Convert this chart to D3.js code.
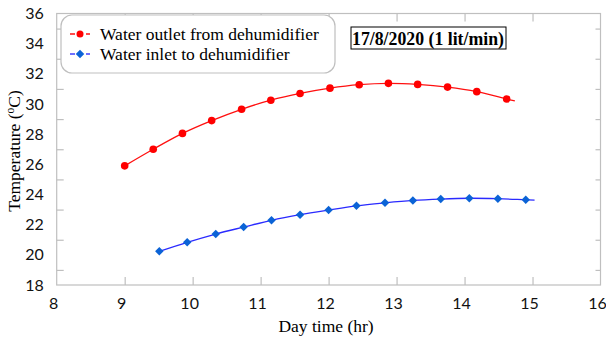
<!DOCTYPE html>
<html>
<head>
<meta charset="utf-8">
<script src="https://cdn.jsdelivr.net/npm/d3@7"></script>
<style>
  body { margin: 0; background: #fff; }
  svg { display: block; }
</style>
</head>
<body>
<div id="chart"></div>
<script>

// data
var outletTime = [9.0, 9.42, 9.85, 10.28, 10.72, 11.15, 11.58, 12.02, 12.45, 12.88, 13.31, 13.75, 14.18, 14.62];
var outletTemp = [25.9, 27.0, 28.05, 28.9, 29.65, 30.25, 30.7, 31.05, 31.28, 31.37, 31.3, 31.12, 30.82, 30.33];
var outletLineEnd = [14.74, 30.2];

var inletTime = [9.51, 9.92, 10.34, 10.75, 11.16, 11.58, 12.0, 12.41, 12.83, 13.24, 13.65, 14.07, 14.49, 14.9];
var inletTemp = [20.23, 20.83, 21.38, 21.84, 22.29, 22.66, 22.97, 23.25, 23.45, 23.61, 23.7, 23.75, 23.72, 23.65];
var inletLineEnd = [15.03, 23.63];

var xTicks = [8, 9, 10, 11, 12, 13, 14, 15, 16];
var yLabels = [18, 20, 22, 24, 26, 28, 30, 32, 34, 36];
var yMarks = [19, 21, 23, 25, 27, 29, 31, 33, 35];

var seriesNames = ["Water outlet from dehumidifier", "Water inlet to dehumidifier"];
var note = "17/8/2020 (1 lit/min)";

var W = 606, H = 339;
var plot = {left: 56.7, right: 600.5, top: 13.5, bottom: 285};

var svg = d3.select("#chart").append("svg")
    .attr("width", W)
    .attr("height", H);

var x = d3.scaleLinear().domain([8, 16]).range([plot.left, plot.right]);
var y = d3.scaleLinear().domain([18, 36]).range([plot.bottom, plot.top]);

var gridColor = "#bfbfbf";
var serif = "'Liberation Serif', 'Times New Roman', serif";
var sans = "Lato, 'Open Sans', sans-serif";

// frame
svg.append("rect")
    .attr("x", plot.left).attr("y", plot.top)
    .attr("width", plot.right - plot.left).attr("height", plot.bottom - plot.top)
    .attr("fill", "none")
    .attr("stroke", gridColor)
    .attr("stroke-width", 1.2);

// inward tick marks on all four sides
function marks(g) {
    g.select(".domain").remove();
    g.selectAll("line").attr("stroke", gridColor).attr("stroke-width", 1.2);
}
svg.append("g").attr("transform", "translate(0," + plot.bottom + ")")
    .call(d3.axisBottom(x).tickValues(xTicks.slice(1, -1)).tickSize(-8).tickFormat(""))
    .call(marks);
svg.append("g").attr("transform", "translate(0," + plot.top + ")")
    .call(d3.axisTop(x).tickValues(xTicks.slice(1, -1)).tickSize(-8).tickFormat(""))
    .call(marks);
svg.append("g").attr("transform", "translate(" + plot.left + ",0)")
    .call(d3.axisLeft(y).tickValues(yMarks).tickSize(-7).tickFormat(""))
    .call(marks);
svg.append("g").attr("transform", "translate(" + plot.right + ",0)")
    .call(d3.axisRight(y).tickValues(yMarks).tickSize(-5).tickFormat(""))
    .call(marks);

// tick labels
var yAx = svg.append("g").attr("transform", "translate(" + plot.left + ",0)")
    .call(d3.axisLeft(y).tickValues(yLabels).tickSize(0).tickPadding(13));
yAx.select(".domain").remove();
yAx.selectAll("text")
    .style("font-family", sans)
    .style("font-size", "16px")
    .attr("fill", "#111");

var xAx = svg.append("g").attr("transform", "translate(-3.5," + plot.bottom + ")")
    .call(d3.axisBottom(x).tickValues(xTicks).tickSize(0).tickPadding(13));
xAx.select(".domain").remove();
xAx.selectAll("text")
    .style("font-family", sans)
    .style("font-size", "16px")
    .attr("fill", "#111");

// axis titles
svg.append("text")
    .attr("x", 326).attr("y", 332)
    .attr("text-anchor", "middle")
    .style("font-family", serif)
    .style("font-size", "17.5px")
    .text("Day time (hr)");

var yt = svg.append("text")
    .attr("transform", "translate(20,151) rotate(-90)")
    .attr("text-anchor", "middle")
    .style("font-family", serif)
    .style("font-size", "17.5px");
yt.append("tspan").text("Temperature (");
yt.append("tspan").attr("dy", -6).style("font-size", "11.5px").text("o");
yt.append("tspan").attr("dy", 6).text("C)");

// series
var line = d3.line()
    .x(function(d) { return x(d[0]); })
    .y(function(d) { return y(d[1]); })
    .curve(d3.curveCatmullRom);

var outlet = outletTime.map(function(t, i) { return [t, outletTemp[i]]; });
var inlet = inletTime.map(function(t, i) { return [t, inletTemp[i]]; });

svg.append("path")
    .datum(outlet.concat([outletLineEnd]))
    .attr("d", line)
    .attr("fill", "none")
    .attr("stroke", "#ff1010")
    .attr("stroke-width", 1.3);

svg.append("path")
    .datum(inlet.concat([inletLineEnd]))
    .attr("d", line)
    .attr("fill", "none")
    .attr("stroke", "#2a2aff")
    .attr("stroke-width", 1.3);

svg.selectAll(".outlet_pt")
    .data(outlet)
  .enter().append("circle")
    .attr("class", "outlet_pt")
    .attr("cx", function(d) { return x(d[0]); })
    .attr("cy", function(d) { return y(d[1]); })
    .attr("r", 3.8)
    .attr("fill", "#ff0000");

var diamond = d3.symbol().type(d3.symbolSquare).size(36);
svg.selectAll(".inlet_pt")
    .data(inlet)
  .enter().append("path")
    .attr("class", "inlet_pt")
    .attr("d", diamond)
    .attr("transform", function(d) {
        return "translate(" + x(d[0]) + "," + y(d[1]) + ") rotate(45)";
    })
    .attr("fill", "#0b63d6");

// legend
var lg = svg.append("g");
lg.append("rect")
    .attr("x", 61).attr("y", 15)
    .attr("width", 274).attr("height", 58)
    .attr("rx", 11)
    .attr("fill", "#fff")
    .attr("stroke", gridColor)
    .attr("stroke-width", 1.2);

var legendColors = [["#ff1010", "#ff0000"], ["#4040ff", "#0b63d6"]];
seriesNames.forEach(function(name, i) {
    var cy = 34 + i * 20;
    lg.append("line")
        .attr("x1", 70).attr("x2", 90)
        .attr("y1", cy).attr("y2", cy)
        .attr("stroke", legendColors[i][0])
        .attr("stroke-width", 1.3)
        .attr("stroke-dasharray", "5,3");
    if (i == 0) {
        lg.append("circle").attr("cx", 80).attr("cy", cy).attr("r", 3.5)
            .attr("fill", legendColors[i][1]);
    } else {
        lg.append("path").attr("d", diamond)
            .attr("transform", "translate(80," + cy + ") rotate(45)")
            .attr("fill", legendColors[i][1]);
    }
    lg.append("text")
        .attr("x", 100).attr("y", cy + 6)
        .style("font-family", serif)
        .style("font-size", "17.5px")
        .text(name);
});

// date note
svg.append("rect")
    .attr("x", 351).attr("y", 27)
    .attr("width", 155).attr("height", 22)
    .attr("fill", "#fff")
    .attr("stroke", "#000")
    .attr("stroke-width", 1);
svg.append("text")
    .attr("x", 352).attr("y", 45)
    .attr("textLength", 152)
    .attr("lengthAdjust", "spacingAndGlyphs")
    .style("font-family", serif)
    .style("font-weight", "bold")
    .style("font-size", "19px")
    .text(note);

</script>
</body>
</html>
